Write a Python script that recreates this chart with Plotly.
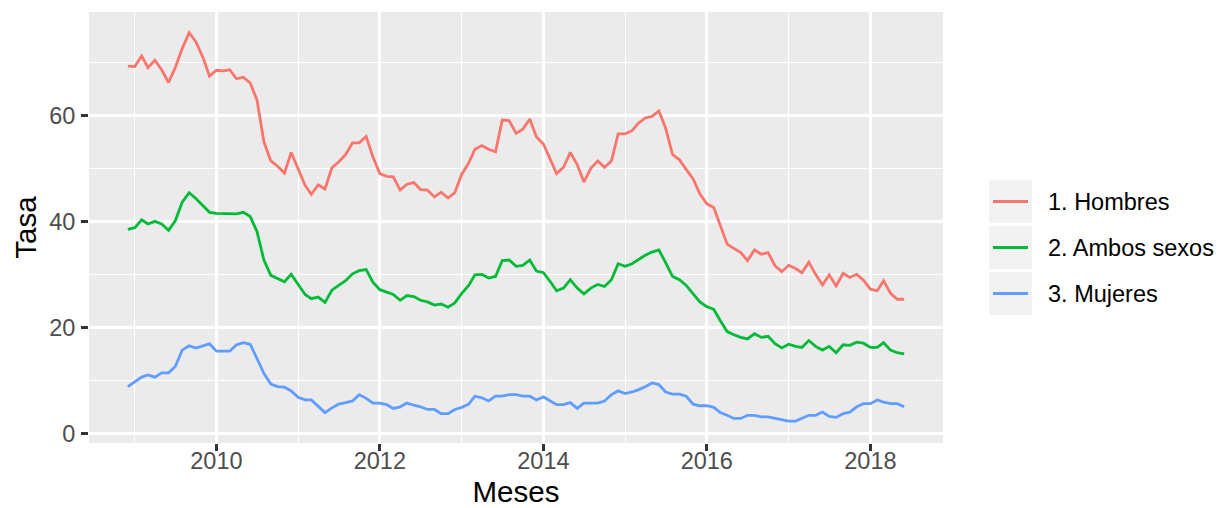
import pandas as pd
import plotly.graph_objects as go

# ---- data (monthly, Dec 2008 - Jun 2018) ----
start_month = "2008-12-01"
n_months = 115

hombres = [69.3, 69.2, 71.2, 69.0, 70.4, 68.6, 66.2, 69.0, 72.6, 75.6, 73.9, 71.0, 67.4, 68.5, 68.4, 68.6,
           66.9, 67.2, 66.1, 62.9, 55.0, 51.4, 50.4, 49.1, 53.0, 50.0, 46.8, 45.1, 46.9, 46.1, 50.1, 51.2,
           52.6, 54.8, 54.8, 56.0, 52.2, 49.0, 48.5, 48.4, 45.9, 47.0, 47.3, 46.0, 45.9, 44.6, 45.5, 44.4,
           45.4, 48.9, 51.0, 53.6, 54.3, 53.6, 53.1, 59.1, 59.0, 56.6, 57.4, 59.3, 55.9, 54.6, 51.6, 49.0,
           50.2, 53.0, 50.7, 47.4, 50.0, 51.4, 50.2, 51.4, 56.5, 56.5, 57.1, 58.5, 59.5, 59.8, 60.8, 57.6,
           52.6, 51.6, 49.8, 48.0, 45.2, 43.3, 42.6, 39.1, 35.7, 34.9, 34.1, 32.6, 34.6, 33.8, 34.1, 31.6,
           30.5, 31.7, 31.1, 30.3, 32.3, 30.0, 28.0, 29.9, 27.8, 30.2, 29.4, 30.0, 28.9, 27.2, 26.9, 28.8,
           26.4, 25.3, 25.3]

ambos = [38.5, 38.8, 40.3, 39.5, 40.0, 39.5, 38.3, 40.1, 43.6, 45.4, 44.3, 43.0, 41.7, 41.5, 41.5, 41.5,
         41.4, 41.7, 40.9, 38.1, 32.7, 29.8, 29.2, 28.6, 30.0, 28.1, 26.2, 25.4, 25.7, 24.7, 27.0, 27.9,
         28.8, 30.1, 30.7, 30.9, 28.5, 27.1, 26.7, 26.2, 25.1, 26.0, 25.8, 25.1, 24.8, 24.2, 24.4, 23.8,
         24.6, 26.4, 27.9, 29.9, 30.0, 29.3, 29.6, 32.6, 32.7, 31.5, 31.7, 32.7, 30.6, 30.3, 28.6, 26.9,
         27.4, 29.0, 27.4, 26.3, 27.4, 28.1, 27.7, 29.0, 32.0, 31.5, 32.0, 32.8, 33.6, 34.2, 34.6, 32.2,
         29.6, 29.0, 27.9, 26.3, 24.8, 23.9, 23.4, 21.3, 19.2, 18.6, 18.1, 17.8, 18.8, 18.1, 18.3, 16.9,
         16.1, 16.8, 16.4, 16.2, 17.5, 16.4, 15.7, 16.4, 15.2, 16.7, 16.6, 17.2, 17.0, 16.2, 16.2, 17.1,
         15.7, 15.2, 15.0]

mujeres = [8.8, 9.7, 10.6, 11.0, 10.6, 11.4, 11.4, 12.6, 15.7, 16.5, 16.1, 16.5, 16.9, 15.5, 15.5, 15.5,
           16.7, 17.1, 16.8, 14.2, 11.3, 9.3, 8.8, 8.7, 8.0, 6.8, 6.3, 6.3, 5.1, 3.9, 4.8, 5.5,
           5.8, 6.1, 7.3, 6.6, 5.7, 5.7, 5.4, 4.7, 5.0, 5.7, 5.3, 5.0, 4.5, 4.5, 3.7, 3.7,
           4.5, 4.9, 5.5, 7.0, 6.7, 6.1, 7.0, 7.0, 7.3, 7.3, 7.0, 7.0, 6.3, 6.9, 6.1, 5.4,
           5.4, 5.8, 4.7, 5.7, 5.7, 5.7, 6.1, 7.3, 8.0, 7.5, 7.8, 8.2, 8.8, 9.5, 9.2, 7.8,
           7.4, 7.4, 7.0, 5.5, 5.2, 5.2, 4.9, 3.9, 3.4, 2.8, 2.8, 3.4, 3.4, 3.1, 3.1, 2.8,
           2.5, 2.3, 2.3, 2.8, 3.4, 3.4, 4.0, 3.2, 3.0, 3.7, 4.0, 5.0, 5.6, 5.6, 6.3, 5.9,
           5.6, 5.6, 5.0]

series_names = ["1. Hombres", "2. Ambos sexos", "3. Mujeres"]
series_values = [hombres, ambos, mujeres]
series_colors = ["#F8766D", "#00BA38", "#619CFF"]

x_tick_labels = ["2010", "2012", "2014", "2016", "2018"]
y_tick_values = [0, 20, 40, 60]

months = pd.date_range(start_month, periods=n_months, freq="MS")

# ---- figure geometry (pixels) ----
W, H = 1220, 508
L, R, T, B = 89, 943, 12, 443  # panel edges
FONT = "Liberation Sans, Arial, Helvetica, sans-serif"


def px_x(px):
    return (px - L) / (R - L)


def px_y(py):
    return (B - py) / (B - T)


fig = go.Figure()
for name, vals, col in zip(series_names, series_values, series_colors):
    fig.add_trace(go.Scatter(x=months, y=vals, mode="lines", name=name,
                             line=dict(color=col, width=2.8), showlegend=False))

# x range with ggplot-style 5% expansion
span = months.max() - months.min()
x0 = months.min() - span * 0.05
x1 = months.max() + span * 0.05

fig.update_layout(
    width=W, height=H,
    margin=dict(l=L, r=W - R, t=T, b=H - B, pad=0, autoexpand=False),
    paper_bgcolor="white",
    plot_bgcolor="#EBEBEB",
    font=dict(family=FONT, color="#4D4D4D", size=23.5),
    showlegend=False,
)

fig.update_xaxes(
    range=[x0, x1], type="date", automargin=False,
    tickmode="array",
    tickvals=[pd.Timestamp(f"{t}-01-01") for t in x_tick_labels],
    ticktext=x_tick_labels,
    ticks="outside", ticklen=7, tickwidth=2.5, tickcolor="#333333",
    tickfont=dict(size=23.5, color="#4D4D4D", family=FONT),
    ticklabelstandoff=-10,
    showgrid=True, gridcolor="white", gridwidth=2.5,
    minor=dict(tickmode="array",
               tickvals=[pd.Timestamp(f"{y}-01-01") for y in range(2009, 2020, 2)],
               showgrid=True, gridcolor="white", gridwidth=1.3, ticks=""),
    zeroline=False, showline=False,
    title=dict(text="Meses", font=dict(size=29.5, color="black", family=FONT), standoff=11),
)

fig.update_yaxes(
    range=[-1.83, 79.5], automargin=False,
    tickmode="array", tickvals=y_tick_values, ticktext=[str(v) for v in y_tick_values],
    ticks="outside", ticklen=7, tickwidth=2.5, tickcolor="#333333",
    tickfont=dict(size=23.5, color="#4D4D4D", family=FONT),
    ticklabelstandoff=1,
    showgrid=True, gridcolor="white", gridwidth=2.5,
    minor=dict(tickmode="array", tickvals=[10, 30, 50, 70],
               showgrid=True, gridcolor="white", gridwidth=1.3, ticks=""),
    zeroline=False, showline=False,
    title=dict(text="Tasa", font=dict(size=29.5, color="black", family=FONT), standoff=3),
)

# ---- custom ggplot-like legend ----
key_left, key_right = 989, 1032
key_tops = [180, 226, 272]
key_size = 43
shapes = []
annotations = []
for name, col, top in zip(series_names, series_colors, key_tops):
    shapes.append(dict(type="rect", xref="paper", yref="paper",
                       x0=px_x(key_left), x1=px_x(key_right),
                       y0=px_y(top + key_size), y1=px_y(top),
                       fillcolor="#F2F2F2", line=dict(width=0), layer="above"))
    cy = top + key_size / 2
    shapes.append(dict(type="line", xref="paper", yref="paper",
                       x0=px_x(key_left + 4), x1=px_x(key_right - 4),
                       y0=px_y(cy), y1=px_y(cy),
                       line=dict(color=col, width=2.8), layer="above"))
    annotations.append(dict(xref="paper", yref="paper", x=px_x(1046), y=px_y(cy),
                            text=name, showarrow=False, xanchor="left", yanchor="middle",
                            font=dict(size=23.5, color="black", family=FONT)))

fig.update_layout(shapes=shapes, annotations=annotations)

fig.write_html("out.html", config={"displayModeBar": False},
               post_script="document.body.style.margin='0';document.body.style.overflow='hidden';")
